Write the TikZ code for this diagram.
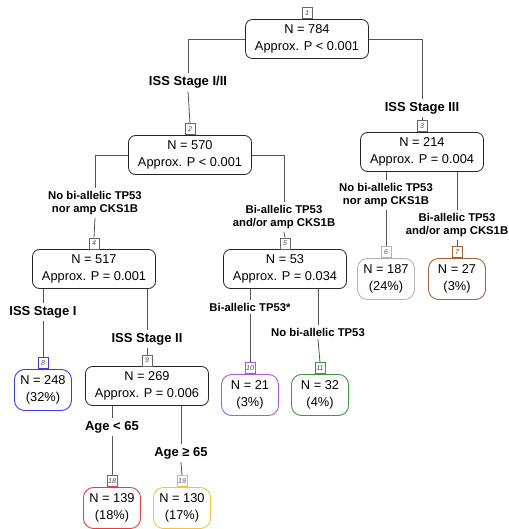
\documentclass[tikz,border=0pt]{standalone}
\usepackage{fontspec}
\setmainfont{Liberation Sans}
\usetikzlibrary{positioning}
\definecolor{edgegray}{HTML}{555555}
\definecolor{leafblue}{HTML}{3A3AF0}
\definecolor{leafpurple}{HTML}{A45BE0}
\definecolor{leafgreen}{HTML}{3A9A3A}
\definecolor{leafred}{HTML}{F03A3A}
\definecolor{leafyellow}{HTML}{F5C33B}
\definecolor{leafgray}{HTML}{B4B4B4}
\definecolor{leafbrown}{HTML}{A86036}
\begin{document}
\begin{tikzpicture}[x=1pt,y=-1pt,
	inner/.style={draw=black!85,rounded corners=7pt,line width=0.8pt,minimum width=123pt,minimum height=39pt,align=center,inner sep=1pt,font=\fontsize{12.8}{16.5}\selectfont},
	leaf/.style={draw=#1,rounded corners=10pt,line width=0.9pt,minimum width=57pt,minimum height=41pt,align=center,inner sep=1pt,font=\fontsize{12.8}{16.5}\selectfont},
	idbox/.style={draw=#1,line width=0.6pt,minimum width=10pt,minimum height=11pt,inner sep=0.8pt,anchor=south,text=black!70,font=\fontsize{7}{8}\selectfont\itshape},
	idbox/.default=black!60,
	split/.style={inner sep=3pt,font=\fontsize{13}{15}\selectfont\bfseries},
	splitsm/.style={inner sep=3pt,align=center,font=\fontsize{11.3}{13.5}\selectfont\bfseries},
	edge/.style={draw=edgegray,line width=0.8pt}]
		\useasboundingbox (0,0) rectangle (508,529);
		% inner nodes
		\node[inner] (n1) at (307,39) {N = 784\\Approx. P < 0.001};
		\node[inner] (n2) at (190,155) {N = 570\\Approx. P < 0.001};
		\node[inner] (n3) at (422,152) {N = 214\\Approx. P = 0.004};
		\node[inner] (n4) at (94,269) {N = 517\\Approx. P = 0.001};
		\node[inner] (n5) at (285,269) {N = 53\\Approx. P = 0.034};
		\node[inner] (n9) at (147,386) {N = 269\\Approx. P = 0.006};
		% leaves
		\node[leaf=leafgray] (n6) at (386,279) {N = 187\\(24\%)};
		\node[leaf=leafbrown] (n7) at (457,279) {N = 27\\(3\%)};
		\node[leaf=leafblue] (n8) at (43,390) {N = 248\\(32\%)};
		\node[leaf=leafpurple] (n10) at (250,395) {N = 21\\(3\%)};
		\node[leaf=leafgreen] (n11) at (320,395) {N = 32\\(4\%)};
		\node[leaf=leafred] (n18) at (112,508) {N = 139\\(18\%)};
		\node[leaf=leafyellow] (n19) at (182,508) {N = 130\\(17\%)};
		% node numbers
		\node[idbox] (i1) at (n1.north) {1};
		\node[idbox] (i2) at (n2.north) {2};
		\node[idbox] (i3) at (n3.north) {3};
		\node[idbox] (i4) at (n4.north) {4};
		\node[idbox] (i5) at (n5.north) {5};
		\node[idbox] (i9) at (n9.north) {9};
		\node[idbox=leafgray] (i6) at (n6.north) {6};
		\node[idbox=leafbrown] (i7) at (n7.north) {7};
		\node[idbox=leafblue] (i8) at (n8.north) {8};
		\node[idbox=leafpurple] (i10) at (n10.north) {10};
		\node[idbox=leafgreen] (i11) at (n11.north) {11};
		\node[idbox=leafred] (i18) at (n18.north) {18};
		\node[idbox=leafyellow] (i19) at (n19.north) {19};
		% split labels
		\node[split] (l2) at (188,82) {ISS Stage I/II};
		\node[split] (l3) at (422,108) {ISS Stage III};
		\node[splitsm] (l4) at (95,203) {No bi-allelic TP53\\nor amp CKS1B};
		\node[splitsm] (l5) at (284,217) {Bi-allelic TP53\\and/or amp CKS1B};
		\node[splitsm] (l6) at (386,195) {No bi-allelic TP53\\nor amp CKS1B};
		\node[splitsm] (l7) at (457,225) {Bi-allelic TP53\\and/or amp CKS1B};
		\node[split] (l8) at (43,312) {ISS Stage I};
		\node[split] (l9) at (147,339) {ISS Stage II};
		\node[splitsm] (l10) at (250,307) {Bi-allelic TP53*};
		\node[splitsm] (l11) at (318,332) {No bi-allelic TP53};
		\node[split] (l18) at (112,427) {Age < 65};
		\node[split] (l19) at (181,453) {Age ≥ 65};
		% edges
		\draw[edge] (n1.west) -| (l2.north);
		\draw[edge] (l2.south) -- (i2.north);
		\draw[edge] (n1.east) -| (l3.north);
		\draw[edge] (l3.south) -- (i3.north);
		\draw[edge] (n2.west) -| (l4.north);
		\draw[edge] (l4.south) -- (i4.north);
		\draw[edge] (n2.east) -| (l5.north);
		\draw[edge] (l5.south) -- (i5.north);
		\draw[edge] (n3.south -| l6) -- (l6.north);
		\draw[edge] (l6.south) -- (i6.north);
		\draw[edge] (n3.south -| l7) -- (l7.north);
		\draw[edge] (l7.south) -- (i7.north);
		\draw[edge] (n4.south -| l8) -- (l8.north);
		\draw[edge] (l8.south) -- (i8.north);
		\draw[edge] (n4.south -| l9) -- (l9.north);
		\draw[edge] (l9.south) -- (i9.north);
		\draw[edge] (n5.south -| l10) -- (l10.north);
		\draw[edge] (l10.south) -- (i10.north);
		\draw[edge] (n5.south -| l11) -- (l11.north);
		\draw[edge] (l11.south) -- (i11.north);
		\draw[edge] (n9.south -| l18) -- (l18.north);
		\draw[edge] (l18.south) -- (i18.north);
		\draw[edge] (n9.south -| l19) -- (l19.north);
		\draw[edge] (l19.south) -- (i19.north);
\end{tikzpicture}
\end{document}
